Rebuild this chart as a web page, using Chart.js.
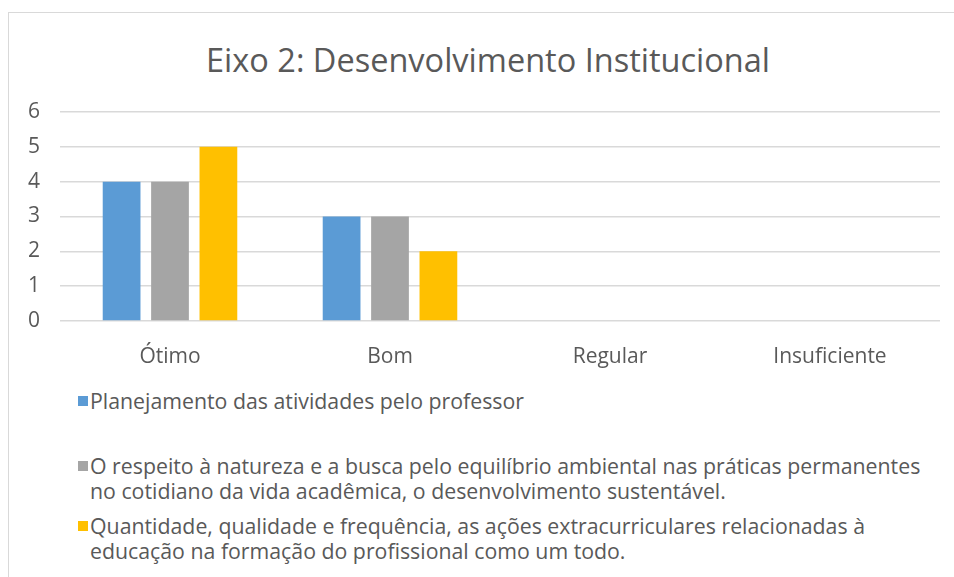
<!DOCTYPE html>
<html>
<head>
<meta charset="utf-8">
<script src="https://cdn.jsdelivr.net/npm/chart.js@4"></script>
<style>
  html, body { margin: 0; padding: 0; background: #fff; overflow: hidden; }
  .frame {
    position: absolute; left: 8px; top: 12px; width: 960px; height: 600px;
    border: 1px solid #d9d9d9; box-sizing: border-box;
  }
  .title {
    position: absolute; left: 0; top: 38px; width: 976px; text-align: center;
    font-family: "Open Sans", "Noto Sans", sans-serif; font-size: 32.5px; line-height: 44px; color: #595959;
  }
  .chart-box { position: absolute; left: 8px; top: 12px; width: 946px; height: 370px; }
  .legend {
    position: absolute; left: 78px; top: 388px; width: 870px;
    font-family: "Open Sans", "Noto Sans", sans-serif; font-size: 21.3px; color: #595959;
  }
  .legend .item { position: relative; padding-left: 12px; line-height: 25px; white-space: pre-line; }
  .legend .sw { position: absolute; left: 0; top: 8px; width: 10px; height: 10px; }
</style>
</head>
<body>
<div class="frame"></div>
<div class="title" id="titulo"></div>
<div class="chart-box"><canvas id="eixoChart"></canvas></div>
<div class="legend" id="legend"></div>
<script>
// DADOS
const titulo = 'Eixo 2: Desenvolvimento Institucional';
const categorias = ['Ótimo', 'Bom', 'Regular', 'Insuficiente'];
const planejamento = [4, 3, 0, 0];
const respeitoNatureza = [4, 3, 0, 0];
const acoesExtra = [5, 2, 0, 0];
const nomesSeries = [
    'Planejamento das atividades pelo professor',
    'O respeito à natureza e a busca pelo equilíbrio ambiental nas práticas permanentes\nno cotidiano da vida acadêmica, o desenvolvimento sustentável.',
    'Quantidade, qualidade e frequência, as ações extracurriculares relacionadas à\neducação na formação do profissional como um todo.'
];
const cores = ['#5B9BD5', '#A5A5A5', '#FFC000'];
const yTicks = [0, 1, 2, 3, 4, 5, 6];

const fonte = '"Open Sans", "Noto Sans", sans-serif';
const cinzaTexto = '#595959';

document.getElementById('titulo').textContent = titulo;

const ctx = document.getElementById('eixoChart');

const chart = new Chart(ctx, {
    type: 'bar',
    data: {
        labels: categorias,
        datasets: [planejamento, respeitoNatureza, acoesExtra].map((valores, i) => ({
            label: nomesSeries[i],
            data: valores,
            backgroundColor: cores[i],
            categoryPercentage: 0.66,
            barPercentage: 0.78
        }))
    },
    options: {
        responsive: true,
        maintainAspectRatio: false,
        animation: false,
        layout: { padding: { left: 0, right: 14, top: 100, bottom: 0 } },
        plugins: {
            legend: { display: false },
            tooltip: { enabled: false },
            title: { display: false }
        },
        scales: {
            x: {
                grid: { display: false },
                border: { display: false },
                ticks: { color: cinzaTexto, font: { family: fonte, size: 21 }, padding: 15 },
                afterFit: (s) => { s.height = 61; }
            },
            y: {
                min: 0,
                max: 6,
                afterBuildTicks: (s) => { s.ticks = yTicks.map(v => ({ value: v })); },
                grid: { color: '#D9D9D9', lineWidth: 1.5, drawTicks: false },
                border: { display: false },
                ticks: { color: cinzaTexto, font: { family: fonte, size: 21 }, padding: 20 },
                afterFit: (s) => { s.width = 52; }
            }
        }
    }
});

// LEGENDA
const legend = document.getElementById('legend');
const espacos = [40, 10, 0];
chart.data.datasets.forEach((ds, i) => {
    const item = document.createElement('div');
    item.className = 'item';
    item.style.marginBottom = espacos[i] + 'px';
    const sw = document.createElement('span');
    sw.className = 'sw';
    sw.style.background = ds.backgroundColor;
    item.appendChild(sw);
    item.appendChild(document.createTextNode(ds.label));
    legend.appendChild(item);
});
</script>
</body>
</html>
